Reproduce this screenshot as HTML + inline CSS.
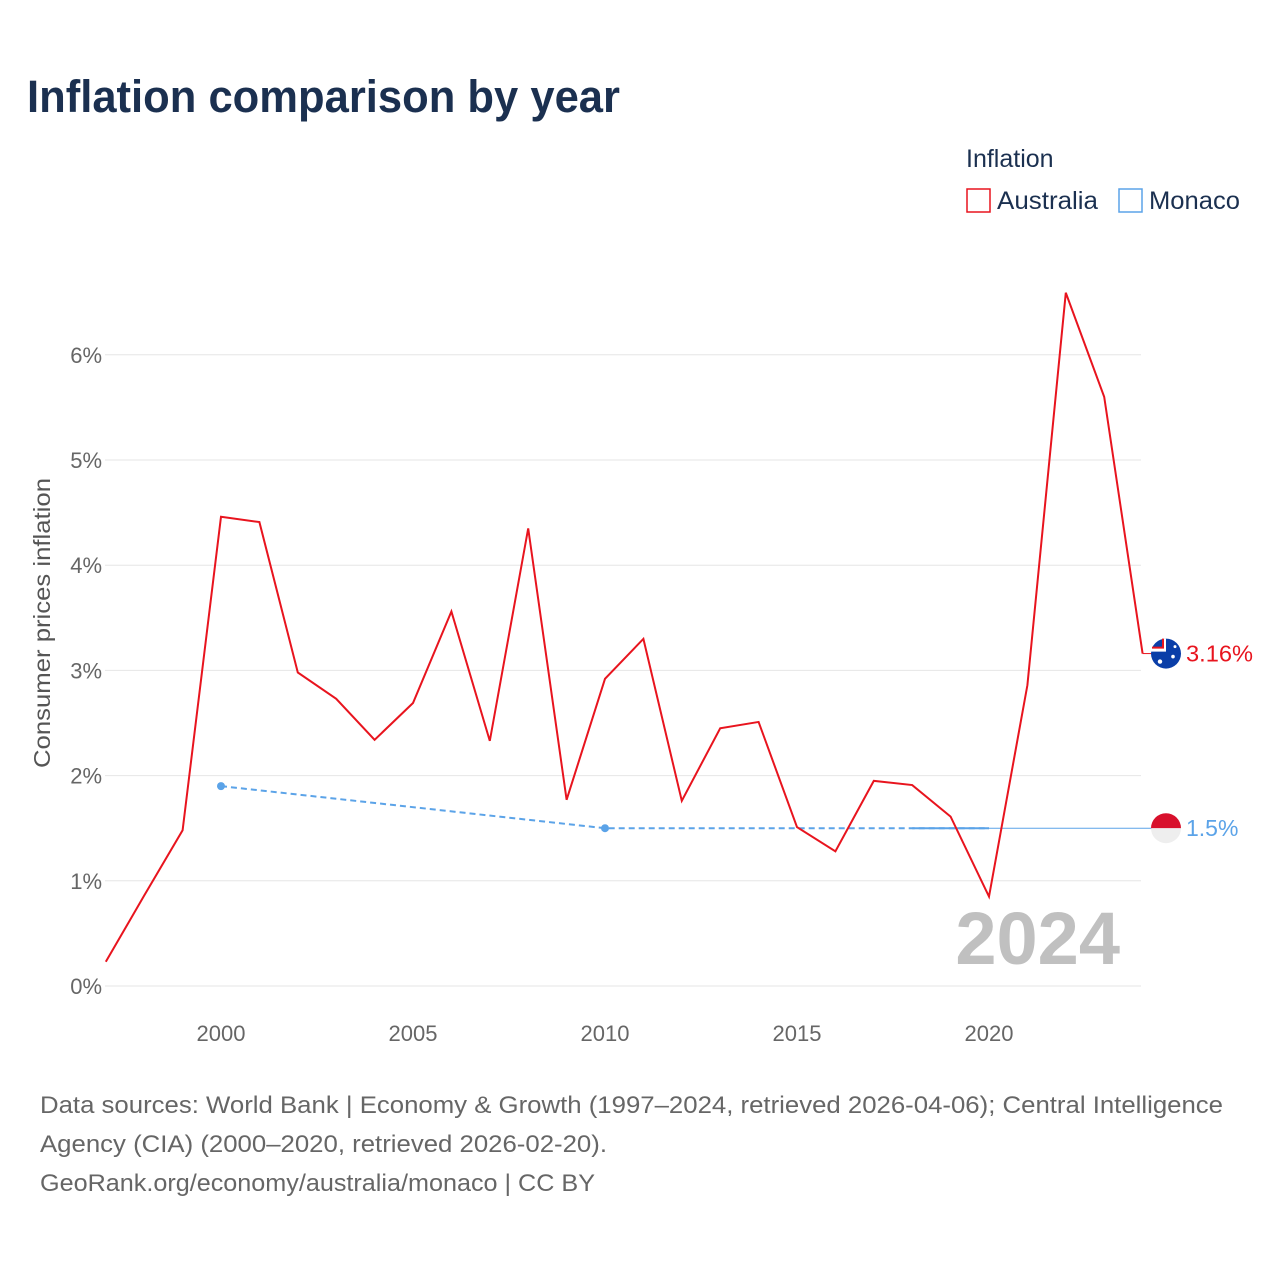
<!DOCTYPE html>
<html><head><meta charset="utf-8">
<style>
body{margin:0;background:#fff;font-family:"Liberation Sans",sans-serif;}
#wrap{position:relative;width:1280px;height:1280px;overflow:hidden;}
</style></head>
<body>
<div id="wrap">
<svg id="chart" width="1280" height="1280" font-family="Liberation Sans, sans-serif">
  <text x="27" y="112" font-size="45" font-weight="bold" fill="#1b3050" textLength="593" lengthAdjust="spacingAndGlyphs">Inflation comparison by year</text>
  <text x="966" y="167" font-size="25" fill="#1b3050">Inflation</text>
  <g>
    <rect x="967" y="189" width="23" height="23" fill="none" stroke="#e8141e" stroke-width="1.5"/>
    <text x="997" y="209" font-size="25" fill="#1b3050" textLength="101" lengthAdjust="spacingAndGlyphs">Australia</text>
  </g>
  <g>
    <rect x="1119" y="189" width="23" height="23" fill="none" stroke="#5ba3e8" stroke-width="1.5"/>
    <text x="1149" y="209" font-size="25" fill="#1b3050" textLength="91" lengthAdjust="spacingAndGlyphs">Monaco</text>
  </g>
  <g id="grid"></g>
  <g id="xticks"></g>
  <g id="series"></g>
  <text x="1120" y="964" text-anchor="end" font-size="74" font-weight="bold" fill="#c0c0c0">2024</text>
  <text transform="translate(50,623) rotate(-90)" text-anchor="middle" font-size="23" fill="#555" textLength="290" lengthAdjust="spacingAndGlyphs">Consumer prices inflation</text>
  <g font-size="24" fill="#666">
    <text x="40" y="1113" textLength="1183" lengthAdjust="spacingAndGlyphs">Data sources: World Bank | Economy &amp; Growth (1997–2024, retrieved 2026-04-06); Central Intelligence</text>
    <text x="40" y="1152" textLength="567" lengthAdjust="spacingAndGlyphs">Agency (CIA) (2000–2020, retrieved 2026-02-20).</text>
    <text x="40" y="1191" textLength="555" lengthAdjust="spacingAndGlyphs">GeoRank.org/economy/australia/monaco | CC BY</text>
  </g>
</svg>
</div>
<script>
const years = [1997,1998,1999,2000,2001,2002,2003,2004,2005,2006,2007,2008,2009,2010,2011,2012,2013,2014,2015,2016,2017,2018,2019,2020,2021,2022,2023,2024];
const australia = [0.23,0.86,1.48,4.46,4.41,2.98,2.73,2.34,2.69,3.56,2.33,4.35,1.77,2.92,3.30,1.76,2.45,2.51,1.51,1.28,1.95,1.91,1.61,0.85,2.86,6.59,5.60,3.16];
const monacoYears = [2000,2010,2020];
const monaco = [1.9,1.5,1.5];
const yTicks = [0,1,2,3,4,5,6];
const xTicks = [2000,2005,2010,2015,2020];

const NS='http://www.w3.org/2000/svg';
const X0=105.8, X1=1142.6, Y0=986, PPU=105.2;
function xs(y){return X0+(y-1997)*(X1-X0)/(2024-1997);}
function ys(v){return Y0-v*PPU;}
function mk(tag,attrs,parent){const e=document.createElementNS(NS,tag);for(const k in attrs)e.setAttribute(k,attrs[k]);parent.appendChild(e);return e;}

const grid=document.getElementById('grid');
yTicks.forEach(t=>{
  const l=mk('line',{x1:105,x2:1141,y1:ys(t),y2:ys(t),stroke:'#e6e6e6','stroke-width':1},grid);
  
  
  const tx=mk('text',{x:102,y:ys(t)+8,'text-anchor':'end','font-size':22,fill:'#666'},grid);
  tx.textContent=t+'%';
  
  
});
const xt=document.getElementById('xticks');
xTicks.forEach(t=>{
  const tx=mk('text',{x:xs(t),y:1041,'text-anchor':'middle','font-size':22,fill:'#666'},xt);
  tx.textContent=t;
  
  
});

const s=document.getElementById('series');
const mPts=monacoYears.map((y,i)=>xs(y)+','+ys(monaco[i])).join(' ');
const mLine=mk('polyline',{points:mPts,fill:'none',stroke:'#5ba3e8','stroke-width':2,'stroke-dasharray':'6,4'},s);


const last=monaco.length-1;
const mSolid=mk('line',{x1:xs(2018),x2:xs(monacoYears[last]),y1:ys(monaco[last]),y2:ys(monaco[last]),stroke:'#5ba3e8','stroke-width':2},s);


const mExt=mk('line',{x1:xs(monacoYears[last]),x2:1152,y1:ys(monaco[last]),y2:ys(monaco[last]),stroke:'#5ba3e8','stroke-width':1},s);


monacoYears.slice(0,2).forEach((y,i)=>{
  const c=mk('circle',{cx:xs(y),cy:ys(monaco[i]),r:4,fill:'#5ba3e8'},s);
  
  
});
const aPts=years.map((y,i)=>xs(y)+','+ys(australia[i])).join(' ');
const aLine=mk('polyline',{points:aPts,fill:'none',stroke:'#e8141e','stroke-width':2},s);


const aLast=australia[australia.length-1];
const aExt=mk('line',{x1:xs(2024),x2:1152,y1:ys(aLast),y2:ys(aLast),stroke:'#e8141e','stroke-width':1},s);



const fa=mk('g',{},s);


mk('circle',{cx:1166,cy:ys(aLast),r:15,fill:'#0a3ea8'},fa);
mk('path',{d:`M1151 ${ys(aLast)-2} h15 v-13 h-4 v9 h-11z`,fill:'#fff'},fa);
mk('path',{d:`M1152 ${ys(aLast)-5} h12 v-10 h-2 v8 h-10z`,fill:'#e8141e'},fa);
mk('circle',{cx:1173,cy:ys(aLast)+3,r:1.8,fill:'#fff'},fa);
mk('circle',{cx:1160,cy:ys(aLast)+8,r:2.2,fill:'#fff'},fa);
mk('circle',{cx:1175,cy:ys(aLast)-7,r:1.5,fill:'#fff'},fa);
const la=mk('text',{x:1186,y:ys(aLast)+8,'font-size':23,fill:'#e8141e',textLength:67,lengthAdjust:'spacingAndGlyphs'},s);
la.textContent=aLast+'%';



const mv=monaco[last];
const fm=mk('g',{},s);


mk('path',{d:`M1151 ${ys(mv)} a15 15 0 0 1 30 0z`,fill:'#d8102c'},fm);
mk('path',{d:`M1151 ${ys(mv)} a15 15 0 0 0 30 0z`,fill:'#eeeeee'},fm);
const lm=mk('text',{x:1186,y:ys(mv)+8,'font-size':23,fill:'#5ba3e8'},s);
lm.textContent=mv+'%';


</script>
</body></html>
